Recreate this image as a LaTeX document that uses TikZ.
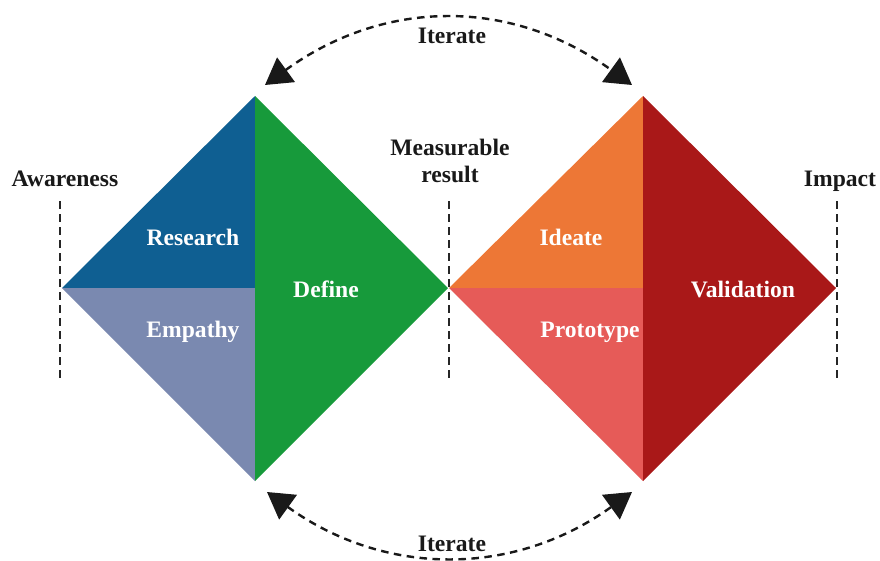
\documentclass[tikz,border=0pt]{standalone}
\usepackage{fontspec}
\setmainfont{Liberation Serif}
\usetikzlibrary{arrows.meta}
\definecolor{cResearch}{HTML}{0F5F92}
\definecolor{cEmpathy}{HTML}{7A89B0}
\definecolor{cDefine}{HTML}{179A3B}
\definecolor{cIdeate}{HTML}{ED7736}
\definecolor{cProto}{HTML}{E65B58}
\definecolor{cValid}{HTML}{A91818}
\tikzset{
  lbl/.style={font=\fontsize{23.6}{27}\selectfont\bfseries,align=center,inner sep=0pt,text=black!90,anchor=base},
  inlbl/.style={lbl,text=white},
  guide/.style={draw=black!85,line width=2pt,dash pattern=on 7.5pt off 5.5pt},
  loopar/.style={draw=black!90,line width=2.4pt,dash pattern=on 7.5pt off 5.5pt,
     {Triangle[length=26pt,width=30pt]}-{Triangle[length=26pt,width=30pt]}}
}
\begin{document}
\begin{tikzpicture}[x=1pt,y=-1pt]
\useasboundingbox (0,0) rectangle (880,560);
\clip (0,0) rectangle (880,560);
\fill[cResearch] (62,288) -- (255,96) -- (255,288) -- cycle;
\fill[cEmpathy] (62,288) -- (255,481) -- (255,288) -- cycle;
\fill[cDefine] (255,96) -- (448,288) -- (255,481) -- cycle;
\fill[cIdeate] (449,288) -- (643,96) -- (643,288) -- cycle;
\fill[cProto] (449,288) -- (643,481) -- (643,288) -- cycle;
\fill[cValid] (643,96) -- (836,288) -- (643,481) -- cycle;
\coordinate (g1a) at (60,201); \coordinate (g1b) at (60,380);
\coordinate (g2a) at (449,201); \coordinate (g2b) at (449,380);
\coordinate (g3a) at (837,201); \coordinate (g3b) at (837,380);
\draw[guide] (g1a) -- (g1b);
\draw[guide] (g2a) -- (g2b);
\draw[guide] (g3a) -- (g3b);
\coordinate (tl) at (265,85); \coordinate (tr) at (632,85);
\coordinate (bl) at (267,492); \coordinate (br) at (632,492);
\draw[loopar] (tl) .. controls (385,-2) and (512,-2) .. (tr);
\draw[loopar] (bl) .. controls (385,577) and (514,577) .. (br);
\node[lbl] (iter1) at (452,43) {Iterate};
\node[lbl] (iter2) at (452,551) {Iterate};
\node[lbl] (aware) at (65,186) {Awareness};
\node[lbl] (meas) at (450,182) {Measurable\\result};
\node[lbl] (imp) at (840,186) {Impact};
\node[inlbl] (res) at (193,245) {Research};
\node[inlbl] (emp) at (193,337) {Empathy};
\node[inlbl] (def) at (326,297) {Define};
\node[inlbl] (ide) at (571,245) {Ideate};
\node[inlbl] (pro) at (590,337) {Prototype};
\node[inlbl] (val) at (743,297) {Validation};
\end{tikzpicture}
\end{document}
